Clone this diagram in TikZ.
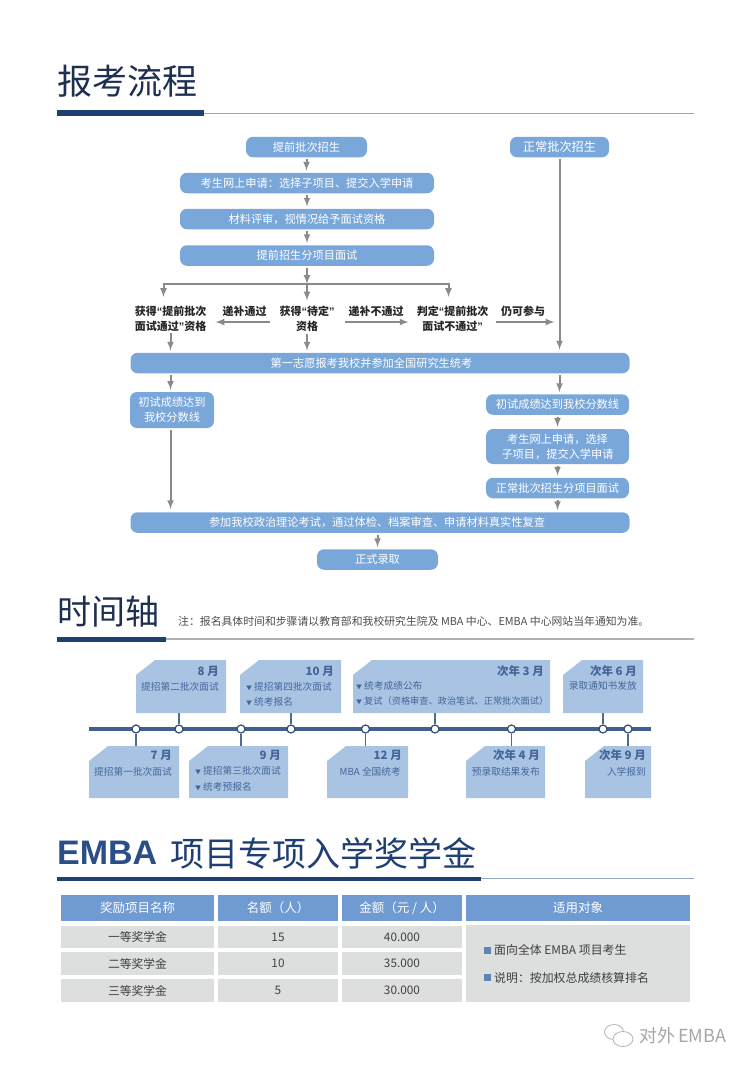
\documentclass[tikz,border=0pt]{standalone}
\usepackage{fontspec}
\setmainfont{Noto Sans CJK SC}
\newfontfamily\latinbold{Liberation Sans}
\usetikzlibrary{arrows,calc}
\definecolor{navy}{HTML}{1F3F73}
\definecolor{titleink}{HTML}{1E3050}
\definecolor{emblue}{HTML}{2A4F88}
\definecolor{rulelight}{HTML}{93A9C6}
\definecolor{flowblue}{HTML}{79A7DA}
\definecolor{arrowgrey}{HTML}{8A8A8A}
\definecolor{tlblue}{HTML}{A9C4E3}
\definecolor{tlink}{HTML}{43659A}
\definecolor{tlaxis}{HTML}{3F6090}
\definecolor{headblue}{HTML}{6F9BD2}
\definecolor{cellgrey}{HTML}{DDDEDE}
\newcommand{\tlbullet}{{\fontsize{6}{6}\selectfont ▼}\hspace{2pt}}
\newcommand{\openq}{{\latinbold “}}
\newcommand{\closeq}{{\latinbold ”}}
\newcommand{\fwcolon}{\char"FF1A\relax}
\newcommand{\fwcomma}{\char"FF0C\relax}
\newcommand{\fwopen}{\char"FF08\relax}
\newcommand{\fwclose}{\char"FF09\relax}
\tikzstyle{flowbox}=[rounded corners=7pt,fill=flowblue,text=white,font=\fontsize{11.2}{15}\selectfont,align=center,inner sep=0pt,minimum height=20.5pt]
\tikzstyle{flowlabel}=[font=\fontsize{11}{15}\selectfont\bfseries,align=center,inner sep=0pt,text=black!85]
\tikzstyle{flowarrow}=[draw=arrowgrey,line width=2pt,-latex,shorten <=2pt,shorten >=2pt]
\tikzstyle{pagetitle}=[font=\fontsize{35}{35}\selectfont,text=titleink,anchor=west,inner sep=0pt]
\tikzstyle{tlhead}=[font=\fontsize{11.5}{12}\selectfont\bfseries,text=tlink,anchor=east,inner sep=0pt]
\tikzstyle{tlbody}=[font=\fontsize{9.7}{12}\selectfont,text=tlink,inner sep=0pt]
\tikzstyle{tlstem}=[draw=tlink!80!gray,line width=1.2pt]
\tikzstyle{tlcircle}=[circle,draw=tlink!75!black,fill=white,line width=1.2pt,minimum size=8pt,inner sep=0pt]
\tikzstyle{cell}=[fill=cellgrey,text=black!75,font=\fontsize{11.8}{14}\selectfont,inner sep=0pt]
\tikzstyle{headcell}=[fill=headblue,text=white,font=\fontsize{12.5}{14}\selectfont,inner sep=0pt]

\begin{document}
\begin{tikzpicture}[x=1pt,y=-1pt]
    \useasboundingbox (0,0) rectangle (750,1069);

    % section heads
    \node[pagetitle] (titleflow) at (57,81) {报考流程};
    \fill[navy] (57,110) rectangle (204,115.5);
    \draw[rulelight,line width=0.8pt] (204,113) -- (694,113);

    \node[pagetitle,font=\fontsize{34}{34}\selectfont] (titletime) at (57,612) {时间轴};
    \fill[navy] (57,636.5) rectangle (166,641.5);
    \draw[black!30,line width=1.6pt] (166,639) -- (694,639);
    \node[anchor=west,inner sep=0pt,text=black!70,font=\fontsize{10.85}{12}\selectfont] (timenote) at (178,621)
        {注\fwcolon 报名具体时间和步骤请以教育部和我校研究生院及 MBA 中心、EMBA 中心网站当年通知为准。};

    \node[pagetitle,font=\fontsize{34}{34}\latinbold\bfseries,text=emblue] (titleemba) at (57,853) {EMBA};
    \node[pagetitle,font=\fontsize{34}{34}\selectfont,text=navy] (titlescholar) at (170,853) {项目专项入学奖学金};
    \fill[navy] (57,876.5) rectangle (481,881);
    \draw[rulelight,line width=0.8pt] (481,878.5) -- (694,878.5);

    % flow boxes
    \foreach \pos/\name/\wid/\hgt/\txt in {
        {(306.5,147)/early/121/20.5/提前批次招生},
        {(307,183)/apply/254/20.5/考生网上申请\fwcolon 选择子项目、提交入学申请},
        {(307,219)/review/254/20.5/材料评审\fwcomma 视情况给予面试资格},
        {(307,255.5)/interview/254/20.5/提前招生分项目面试},
        {(559.5,147)/normal/99/20.5/{\fontsize{12.2}{15}\selectfont 正常批次招生}},
        {(380,363)/joint/499/20.5/第一志愿报考我校并参加全国研究生统考\hspace*{17pt}},
        {(172,410)/scoreleft/84/36/初试成绩达到\\我校分数线},
        {(557.5,404.5)/scoreright/143/20.5/初试成绩达到我校分数线},
        {(557.5,446.5)/applyright/143/35/考生网上申请\fwcomma 选择\\子项目\fwcomma 提交入学申请},
        {(557.5,488)/interviewright/143/20.5/正常批次招生分项目面试},
        {(380,522.5)/politics/499/20.5/参加我校政治理论考试\fwcomma 通过体检、档案审查、申请材料真实性复查\hspace*{6pt}},
        {(377.5,559.5)/admit/121/20.5/正式录取}}
        \node[flowbox,minimum width=\wid pt,minimum height=\hgt pt] (\name) at \pos {\txt};

    % labels between the rows
    \foreach \pos/\name/\txt in {
        {(170.5,318.5)/earlypass/获得\openq 提前批次\\面试通过\closeq 资格},
        {(307,318.5)/pending/获得\openq 待定\closeq\\资格},
        {(452.5,318.5)/earlyfail/判定\openq 提前批次\\面试不通过\closeq},
        {(244.5,311)/passnote/递补通过},
        {(376,311)/failnote/递补不通过},
        {(523,311)/stillnote/仍可参与}}
        \node[flowlabel] (\name) at \pos {\txt};

    \coordinate (split) at (307,284);
    \coordinate (dropleft) at (163.5,299);
    \coordinate (dropright) at (448.5,299);

    % connect the boxes
    \foreach \source/ \dest in {early/apply, apply/review, review/interview, scoreright/applyright, applyright/interviewright}
        \path[flowarrow] (\source) -- (\source |- \dest.north);
    \path[flowarrow,shorten >=0pt] (interview) -- (split);
    \path[flowarrow,shorten <=0pt] (split) -| (dropleft);
    \path[flowarrow,shorten <=0pt] (split) -| (dropright);
    \path[flowarrow,shorten <=0pt,shorten >=5pt] (split) -- (pending);
    \path[flowarrow,shorten <=9pt,shorten >=9pt] ([yshift=-3.5pt]pending.west) -- ([yshift=-3.5pt]pending.west -| earlypass.east);
    \path[flowarrow,shorten <=10pt,shorten >=8pt] ([yshift=-3.5pt]pending.east) -- ([yshift=-3.5pt]pending.east -| earlyfail.west);
    \path[flowarrow,shorten <=8pt,shorten >=5pt] ([yshift=-3.5pt]earlyfail.east) -- ([yshift=-3.5pt]earlyfail.east -| normal);
    \path[flowarrow,shorten >=3pt] (normal) -- (normal |- joint.north);
    \path[flowarrow] (earlypass.south) -- (earlypass.south |- joint.north);
    \path[flowarrow] (pending.south) -- (pending.south |- joint.north);
    \path[flowarrow] (joint.south -| earlypass) -- (earlypass |- scoreleft.north);
    \path[flowarrow] (joint.south -| normal) -- (normal |- scoreright.north);
    \path[flowarrow,shorten >=3pt] (scoreleft.south -| earlypass) -- (earlypass |- politics.north);
    \path[flowarrow] (interviewright) -- (interviewright |- politics.north);
    \path[flowarrow] (politics.south -| admit) -- (admit);

    % timeline boxes
    \foreach \xa/\ya/\xb/\yb/\name in {136/660/226/713/aug, 240/660/341/713/oct, 353/660/550/713/mar, 563/660/643/713/jun,
        89/746/179/798/jul, 189/746/288/798/sep, 327/746/408/798/dec, 466/746/545/798/apr, 585/746/651/798/nxsep}
    {
        \fill[tlblue] (\xa+19,\ya) -- (\xb,\ya) -- (\xb,\yb) -- (\xa,\yb) -- (\xa,\ya+15) -- cycle;
        \coordinate (\name nw) at (\xa,\ya);
        \coordinate (\name se) at (\xb,\yb);
    }

    \coordinate (axisstart) at (89,729);
    \coordinate (axisend) at (651,729);
    \draw[tlaxis,line width=3.4pt] (axisstart) -- (axisend);

    \foreach \x/\name in {136/jul, 179/aug, 241/sep, 291/oct, 365.5/dec, 435/mar, 511.5/apr, 603/jun, 628/nxsep}
        \node[tlcircle] (\name dot) at (\x,729) {};

    % stems
    \foreach \name in {aug, oct, mar, jun}
        \draw[tlstem] (\name dot) -- (\name dot |- \name se);
    \foreach \name in {jul, sep, dec, apr, nxsep}
        \draw[tlstem] (\name dot) -- (\name dot |- \name nw);

    % timeline text
    \foreach \pos/\name/\txt in {
        {(219,671)/aug/8 月}, {(334,671)/oct/10 月}, {(544,671)/mar/次年 3 月}, {(637,671)/jun/次年 6 月},
        {(172,755.5)/jul/7 月}, {(281,755.5)/sep/9 月}, {(402,755.5)/dec/12 月}, {(540,755.5)/apr/次年 4 月}, {(646,755.5)/nxsep/次年 9 月}}
        \node[tlhead] (\name head) at \pos {\txt};

    \foreach \pos/\name/\txt in {
        {(219,687)/augline/提招第二批次面试}, {(637,686)/junline/录取通知书发放},
        {(172,772)/julline/提招第一批次面试}, {(401,772)/decline/MBA 全国统考},
        {(540,772)/aprline/预录取结果发布}, {(646,772)/nxsepline/入学报到}}
        \node[tlbody,anchor=east] (\name) at \pos {\txt};

    \foreach \pos/\name/\txt in {
        {(246,687)/octa/提招第四批次面试}, {(246,702)/octb/统考报名},
        {(356,686)/mara/统考成绩公布}, {(356,701)/marb/{\fontsize{9.2}{12}\selectfont 复试\fwopen 资格审查、政治笔试、正常批次面试\fwclose}},
        {(195,771)/sepa/提招第三批次面试}, {(195,787)/sepb/统考预报名}}
        \node[tlbody,anchor=west] (\name) at \pos {\tlbullet\txt};

    % scholarship table
    \foreach \xa/\wid/\name/\txt in {137.5/153/costname/奖励项目名称, 278/120/costnum/{名额\fwopen 人\fwclose}, 402/120/costsum/{金额\fwopen 元 / 人\fwclose}, 578/224/costwho/适用对象}
        \node[headcell,minimum width=\wid pt,minimum height=26pt] (\name) at (\xa,908) {\txt};

    \foreach \y/\name/\award/\num/\sum in {937/one/一等奖学金/15/40.000, 963.5/two/二等奖学金/10/35.000, 990.5/three/三等奖学金/5/30.000}
    {
        \node[cell,minimum width=153pt,minimum height=22.5pt] (\name a) at (137.5,\y) {\award};
        \node[cell,minimum width=120pt,minimum height=22.5pt] (\name b) at (278,\y) {\num};
        \node[cell,minimum width=120pt,minimum height=22.5pt] (\name c) at (402,\y) {\sum};
    }
    \node[cell,minimum width=224pt,minimum height=77pt] (costbody) at (578,963.5) {};
    \foreach \y/\name/\txt in {950/whoa/面向全体 EMBA 项目考生, 977.5/whob/说明\fwcolon 按加权总成绩核算排名}
    {
        \fill[headblue!85!black] (484,\y-3.5) rectangle (490.5,\y+3.5);
        \node[anchor=west,inner sep=0pt,text=black!75,font=\fontsize{11.9}{14}\selectfont] (\name) at (494,\y) {\txt};
    }

    % watermark
    \draw[black!30,line width=0.8pt] (614,1032) ellipse (9.5pt and 7.5pt);
    \draw[black!30,line width=0.8pt,fill=white] (623,1039) ellipse (10pt and 7.5pt);
    \node[anchor=west,inner sep=0pt,text=black!35,font=\fontsize{18}{18}\selectfont] (mark) at (639,1036) {对外\,EMBA};
\end{tikzpicture}
\end{document}
